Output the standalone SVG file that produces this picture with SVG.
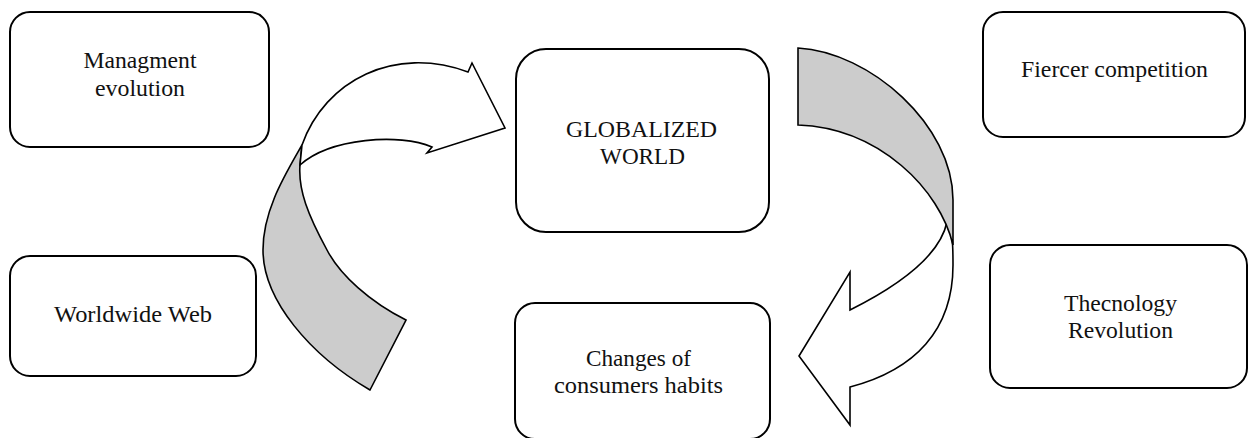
<svg xmlns="http://www.w3.org/2000/svg" width="1248" height="438" viewBox="0 0 1248 438">
<style>
.box{fill:#fff;stroke:#000;stroke-width:2}
.lbl{font-family:"Liberation Serif","Times New Roman",serif;font-size:23px;fill:#111;text-anchor:middle}
.arw{stroke:#000;stroke-width:1.6;stroke-linejoin:miter}
.gray{fill:#cccccc}
.white{fill:#fff}
</style>
<rect width="1248" height="438" fill="#fff"/>
<g id="connectors">
  <g id="arrow-left">
    <path class="arw gray" d="M302,145 C285,175 263,210 263,250 C263,300 310,355 370,390 L406,320 C370,302 340,275 327,250 C308,215 298,190 300,165 Z"/>
    <path class="arw white" d="M302,145 C325,80 395,45 468,72 L472,63 L505,128 L427,153 L432,147 C400,133 330,138 300,165 Z"/>
  </g>
  <g id="arrow-right">
    <path class="arw white" d="M947,222 C953,235 953,245 953,265 C953,330 915,370 850,387 L850,425 L799,356 L850,272 L850,310 C900,285 940,255 947,222 Z"/>
    <path class="arw gray" d="M798,48 C870,52 953,125 953,200 L953,245 C940,190 880,128 798,125 Z"/>
  </g>
</g>
<g id="node-management">
  <rect class="box" x="10" y="12" width="259" height="135" rx="20"/>
  <text class="lbl" x="140" y="68" textLength="113" lengthAdjust="spacingAndGlyphs">Managment</text>
  <text class="lbl" x="140" y="96" textLength="90" lengthAdjust="spacingAndGlyphs">evolution</text>
</g>
<g id="node-globalized">
  <rect class="box" x="516" y="49" width="253" height="183" rx="30"/>
  <text class="lbl" x="641.5" y="137" textLength="151" lengthAdjust="spacingAndGlyphs">GLOBALIZED</text>
  <text class="lbl" x="642.5" y="164" textLength="85" lengthAdjust="spacingAndGlyphs">WORLD</text>
</g>
<g id="node-fiercer">
  <rect class="box" x="983" y="12" width="262" height="125" rx="20"/>
  <text class="lbl" x="1114.5" y="77" textLength="187" lengthAdjust="spacingAndGlyphs">Fiercer competition</text>
</g>
<g id="node-worldwide">
  <rect class="box" x="10" y="256" width="246" height="120" rx="20"/>
  <text class="lbl" x="133" y="322" textLength="158" lengthAdjust="spacingAndGlyphs">Worldwide Web</text>
</g>
<g id="node-changes">
  <rect class="box" x="515" y="303" width="255" height="136" rx="20"/>
  <text class="lbl" x="638.5" y="366" textLength="105" lengthAdjust="spacingAndGlyphs">Changes of</text>
  <text class="lbl" x="638.5" y="393" textLength="169" lengthAdjust="spacingAndGlyphs">consumers habits</text>
</g>
<g id="node-technology">
  <rect class="box" x="990" y="245" width="257" height="143" rx="20"/>
  <text class="lbl" x="1120.5" y="311" textLength="113" lengthAdjust="spacingAndGlyphs">Thecnology</text>
  <text class="lbl" x="1120.5" y="338" textLength="105" lengthAdjust="spacingAndGlyphs">Revolution</text>
</g>
</svg>
